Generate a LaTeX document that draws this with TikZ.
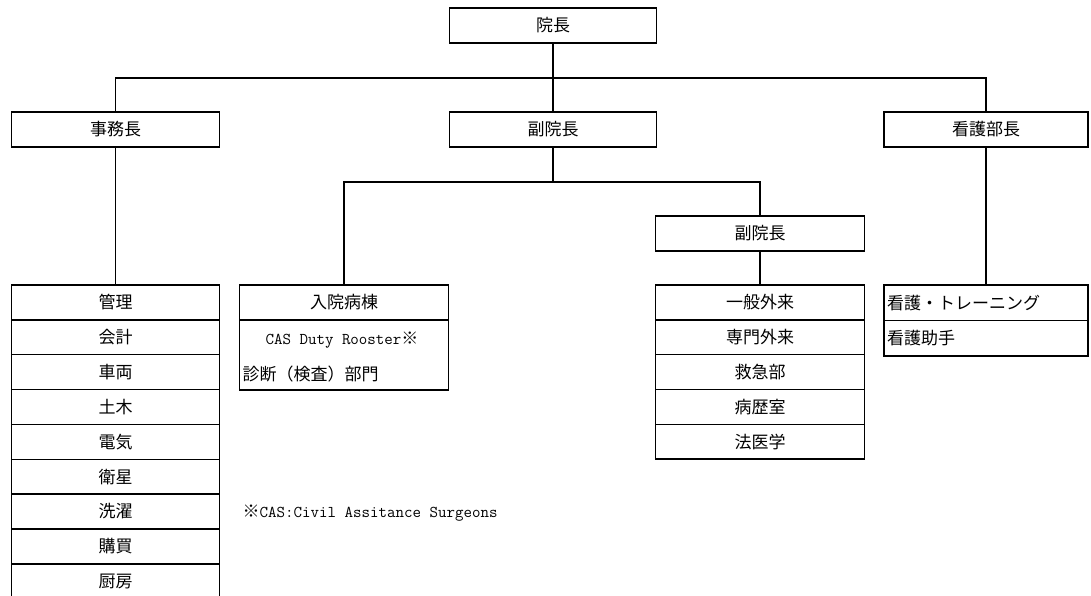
\documentclass[tikz,border=0pt]{standalone}
\usepackage{fontspec}
\setmainfont{Noto Sans CJK JP}
\newcommand\latt{\ttfamily\fontsize{16.5pt}{19pt}\selectfont}
\begin{document}
\begin{tikzpicture}[x=1pt,y=-1pt,line width=1.4pt,
  txt/.style={font=\fontsize{17pt}{20pt}\selectfont},
  box/.style={txt,draw,minimum height=35pt,inner sep=0pt},
  rowbox/.style={txt,draw,minimum height=#1,inner sep=0pt},
  lrow/.style={txt,draw,minimum height=35.5pt,text width=198pt,inner xsep=3pt,inner ysep=0pt,align=left}]
\useasboundingbox[fill=white] (0,0) rectangle (1091,596);
% top levels
\node[box,minimum width=207pt] (dir) at (553,25.5) {院長};
\node[box,minimum width=208pt] (jim) at (115.5,129.5) {事務長};
\node[box,minimum width=207pt] (vp) at (553,129.5) {副院長};
\node[box,minimum width=204pt] (nd) at (986,129.5) {看護部長};
\node[box,minimum width=209pt] (vp2) at (760,233.5) {副院長};
% left list
\foreach \t [count=\i] in {管理,会計,車両,土木,電気,衛星,洗濯,購買,厨房}
  \node[rowbox=34.85pt,minimum width=208pt] (k\i) at (115.5,{285+34.85*(\i-0.5)}) {\t};
% inpatient
\node[box,minimum width=209pt] (nh) at (344,302.5) {入院病棟};
\node[draw,minimum width=209pt,minimum height=70pt,inner sep=0pt] (nb) at (344,355) {};
\node[txt,inner sep=0pt] (nb1) at (342,340) {{\latt CAS Duty Rooster}※};
\node[txt,inner sep=0pt,anchor=west] (nb2) at (242,374) {診断（検査）部門};
% outpatient list
\foreach \t [count=\i] in {一般外来,専門外来,救急部,病歴室,法医学}
  \node[rowbox=34.8pt,minimum width=209pt] (g\i) at (760,{285+34.8*(\i-0.5)}) {\t};
% nursing list
\node[lrow] (n1) at (986,302.75) {看護・トレーニング};
\node[lrow] (n2) at (986,338.25) {看護助手};
% footnote
\node[txt,inner sep=0pt,anchor=west] (fn) at (242,513) {※{\latt CAS:Civil Assitance Surgeons}};
% connectors
\coordinate (j1) at (553,78);
\coordinate (j2) at (553,182);
\draw (dir.south) -- (vp.north);
\draw (jim.north) -- (jim.north |- j1) -| (nd.north);
\draw (jim.south) -- (k1.north);
\draw (nd.south) -- (n1.north);
\draw (vp.south) -- (j2);
\draw (nh.north) -- (nh.north |- j2) -| (vp2.north);
\draw (vp2.south) -- (g1.north);
\end{tikzpicture}
\end{document}
